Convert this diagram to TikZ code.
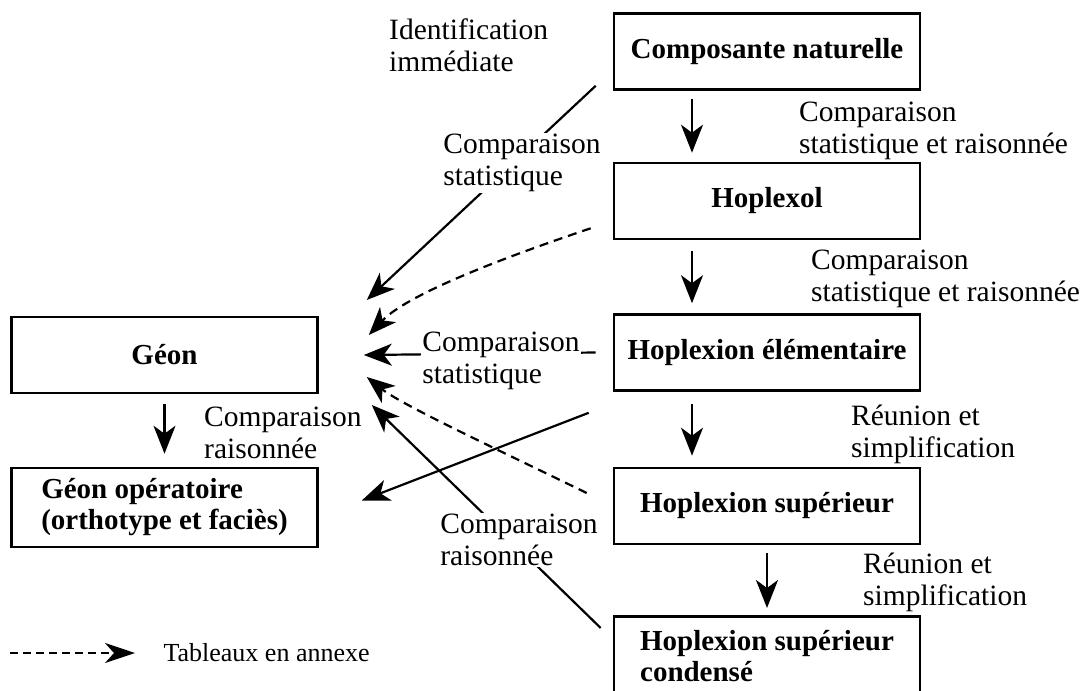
\documentclass[tikz,border=0pt]{standalone}
\usepackage{fontspec}
\setmainfont{Liberation Serif}
\usetikzlibrary{arrows.meta, positioning}

\begin{document}
\begin{tikzpicture}[
    x=1pt, y=-1pt,
    level/.style={rectangle, draw, line width=2.6pt, minimum width=306pt, minimum height=76pt, align=center, font=\fontsize{29}{31}\selectfont\bfseries},
    note/.style={font=\fontsize{29.5}{32}\selectfont, align=left, inner sep=1pt},
    cover/.style={note, fill=white},
    link/.style={line width=2.2pt, -{Stealth[length=28pt, width=22pt, inset=8pt]}},
    annex/.style={link, dash pattern=on 9pt off 6pt},
]
\useasboundingbox (0,0) rectangle (1085,691);
\clip (0,0) rectangle (1085,691);

% Right column
\node[level] (cn) at (767,51.5) {Composante naturelle};
\node[level] (hx) at (767,201) {Hoplexol};
\node[level] (he) at (767,352.5) {Hoplexion élémentaire};
\node[level] (hs) at (767,506) {Hoplexion supérieur};
\node[level, anchor=north, minimum height=80pt, align=left] (hc) at (767,615) {Hoplexion supérieur\\condensé};

% Left column
\node[level] (geon) at (164.5,355) {Géon};
\node[level, minimum height=79pt, align=left] (geonop) at (164.5,507.5) {Géon opératoire\\(orthotype et faciès)};

% Vertical steps
\draw[link, shorten <=8pt, shorten >=9pt] ([xshift=-75pt]cn.south) -- ([xshift=-75pt]hx.north);
\draw[link, shorten <=11pt, shorten >=10pt] ([xshift=-75pt]hx.south) -- ([xshift=-75pt]he.north);
\draw[link, shorten <=12pt, shorten >=11pt] ([xshift=-75pt]he.south) -- ([xshift=-75pt]hs.north);
\draw[link, shorten <=8pt, shorten >=7pt] (hs) -- (hc);
\draw[link, shorten <=10pt, shorten >=13pt] (geon) -- (geonop);

% Towards the geon
\draw[link] ([xshift=-17pt, yshift=5pt]cn.south west) -- ([xshift=48pt, yshift=55pt]geon.east);
\draw[annex] ([xshift=-22pt, yshift=12pt]hx.south west) .. controls +(-122,41) and +(33,-35) .. ([xshift=50pt, yshift=20pt]geon.east);
\draw[link] ([xshift=-17pt]he.west) -- ([xshift=45pt]geon.east);
\draw[annex] ([xshift=-26pt, yshift=13pt]hs.west) .. controls +(-88,-43) and +(35,28) .. ([xshift=48pt, yshift=-22pt]geon.east);
\draw[link] ([xshift=-12pt, yshift=-13pt]hc.north west) -- ([xshift=53pt, yshift=-50pt]geon.east);
\draw[link] ([xshift=-24pt, yshift=-21pt]he.south west) -- ([xshift=43pt, yshift=7pt]geonop.east);

% Labels on the links
\node[cover] (statA) at (522,163) {Comparaison\\statistique};
\node[cover] (statB) at (501,361) {Comparaison\\statistique};
\node[cover] (rais) at (519,540) {Comparaison\\raisonnée};
\node[note, anchor=west] (ident) at (388,45) {Identification\\immédiate};
\node[note, anchor=west] (step1) at (798,131) {Comparaison\\statistique et raisonnée};
\node[note, anchor=west] (step2) at (810,279) {Comparaison\\statistique et raisonnée};
\node[note, anchor=west] (step3) at (850,434) {Réunion et\\simplification};
\node[note, anchor=west] (step4) at (862,582) {Réunion et\\simplification};
\node[note, anchor=west] (stepg) at (203,433) {Comparaison\\raisonnée};

% Legend
\coordinate (key) at (10,653);
\node[font=\fontsize{26}{30}\selectfont, anchor=west] (keytxt) at (160,653) {Tableaux en annexe};
\draw[link, line width=2pt, dash pattern=on 8pt off 5pt, -{Stealth[length=30pt, width=20pt, inset=9pt]}] (key) -- ([xshift=-25pt]keytxt.west);

\end{tikzpicture}
\end{document}
